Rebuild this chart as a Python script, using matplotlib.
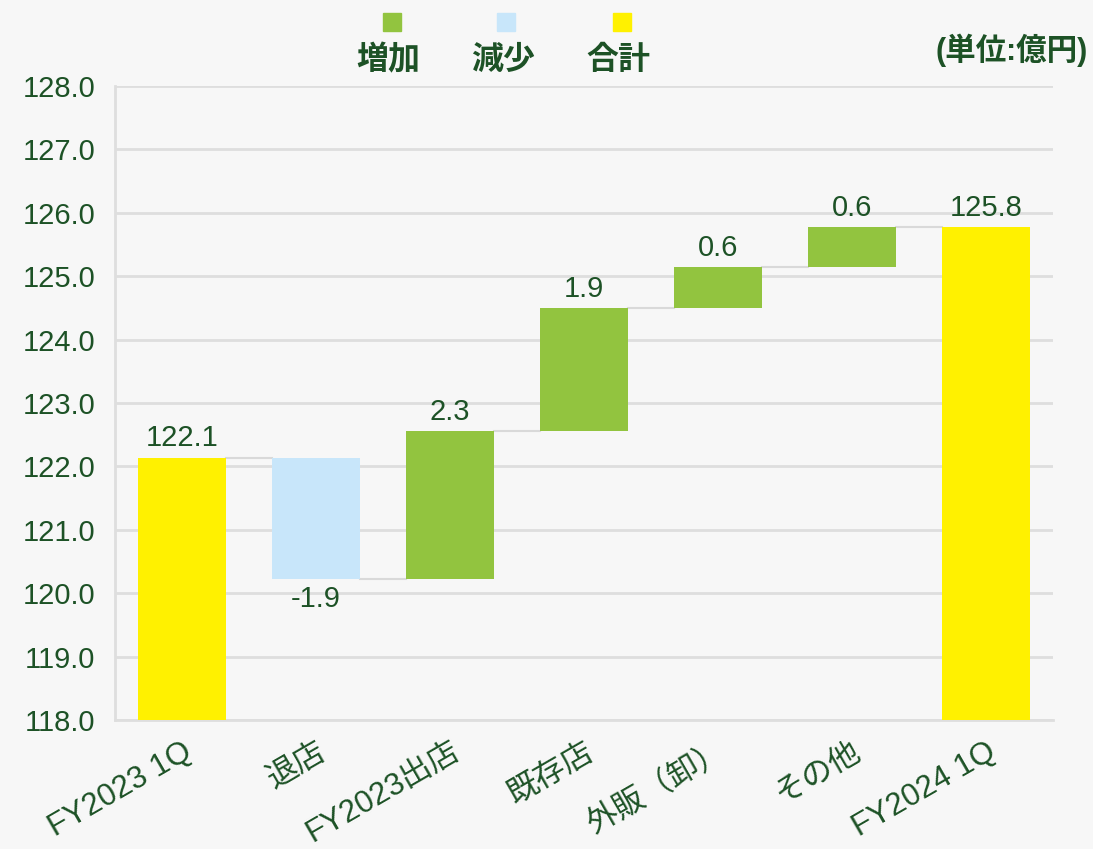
import matplotlib.pyplot as plt
from matplotlib.patches import Rectangle

plt.rcParams['font.family'] = ['Liberation Sans', 'Noto Sans CJK JP', 'DejaVu Sans']

categories = ['FY2023 1Q', '退店', 'FY2023出店', '既存店', '外販（卸）', 'その他', 'FY2024 1Q']
start_total = 122.14
deltas = [-1.91, 2.33, 1.94, 0.64, 0.64]
legend_names = ['増加', '減少', '合計']
unit_text = '(単位:億円)'

c_up = '#92c43f'
c_down = '#c8e6fa'
c_total = '#fff100'
c_text = '#1d5226'
c_grid = '#dedede'
bg = '#f7f7f7'

fig = plt.figure(figsize=(10.93, 8.49), dpi=100, facecolor=bg)
ax = fig.add_axes([0.1052, 0.1519, 0.8582, 0.7468], facecolor=bg)

ymin = 118.0
w = 0.66
levels = [start_total]
for d in deltas:
    levels.append(levels[-1] + d)
end_total = levels[-1]

bottoms, heights, colors, labels = [], [], [], []
bottoms.append(ymin); heights.append(start_total - ymin); colors.append(c_total)
labels.append(start_total)
for i, d in enumerate(deltas):
    lo = min(levels[i], levels[i + 1])
    bottoms.append(lo); heights.append(abs(d))
    colors.append(c_up if d >= 0 else c_down)
    labels.append(d)
bottoms.append(ymin); heights.append(end_total - ymin); colors.append(c_total)
labels.append(end_total)

x = list(range(len(categories)))
ax.bar(x, heights, bottom=bottoms, width=w, color=colors, zorder=3)

# connectors
for i in range(len(categories) - 1):
    ax.plot([i + w / 2, i + 1 - w / 2], [levels[i], levels[i]], color='#d9d9d9', lw=1.5, zorder=2)

# value labels
for i, (b, h, v) in enumerate(zip(bottoms, heights, labels)):
    if v < 0:
        ax.text(i, b - 0.1, f'{v:.1f}', ha='center', va='top', fontsize=21, color=c_text, zorder=4)
    else:
        ax.text(i, b + h + 0.08, f'{v:.1f}', ha='center', va='bottom', fontsize=21, color=c_text, zorder=4)

ax.set_xlim(-0.5, len(categories) - 0.5)
ax.set_ylim(ymin, 128)
ax.set_yticks([118 + k for k in range(11)])
ax.set_yticklabels([f'{118 + k:.1f}' for k in range(11)])
ax.yaxis.grid(True, color=c_grid, lw=2, zorder=0)
ax.tick_params(axis='y', length=0, pad=14, labelsize=21, labelcolor=c_text)
ax.tick_params(axis='x', length=0, pad=12)
ax.set_xticks(x)
ax.set_xticklabels(categories, rotation=30, ha='right', va='top', rotation_mode='anchor',
                   fontsize=22.5, color=c_text)
for s in ['top', 'right']:
    ax.spines[s].set_visible(False)
for s in ['left', 'bottom']:
    ax.spines[s].set_color(c_grid)
    ax.spines[s].set_linewidth(2)

# legend
leg_x = [0.3585, 0.4630, 0.5690]
leg_cols = [c_up, c_down, c_total]
for lx, name, col in zip(leg_x, legend_names, leg_cols):
    sq = 18 / 1093
    fig.patches.append(Rectangle((lx - sq / 2, 1 - 31 / 849), sq, 18 / 849,
                                 transform=fig.transFigure, color=col))
    fig.text(lx - 0.003, 1 - 61 / 849, name, ha='center', va='center', fontsize=23,
             fontweight='bold', color=c_text)

fig.text(0.9955, 1 - 50 / 849, unit_text, ha='right', va='center', fontsize=22,
         fontweight='bold', color=c_text)

fig.savefig('out.png', dpi=100, facecolor=bg)
